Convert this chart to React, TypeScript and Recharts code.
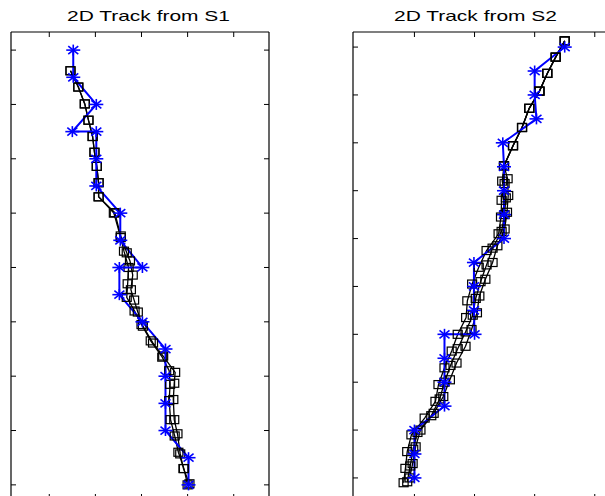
import React from "react";
import { LineChart, Line, XAxis, YAxis } from "recharts";

// tick positions (axes carry no labels)
const s1XTicks = [1, 2, 3, 4, 5];
const s1YTicks = [0, 1, 2, 3, 4, 5, 6, 7, 8];
const s2XTicks = [1, 2, 3, 4];
const s2YTicks = [0, 1, 2, 3, 4, 5, 6, 7, 8, 9];

// S1: sensor detections (blue *)
const s1DetX = [1.52, 1.52, 2.02, 1.5, 2.02, 2.02, 2.02, 2.54, 2.54, 3.02, 2.52, 2.52, 3.02, 3.52, 3.52, 3.52, 3.52, 4.02, 4.02];
const s1DetY = [8, 7.5, 7, 6.5, 6.5, 6, 5.5, 5, 4.5, 4, 4, 3.5, 3, 2.5, 2, 1.5, 1, 0.5, 0];

// S1: estimated tracks (black squares)
const s1TrackAX = [1.46, 1.63, 1.77, 1.85, 1.94, 1.98, 2.03, 2.07, 2.07, 2.42, 2.55, 2.68, 2.75, 2.81, 2.77, 2.84, 2.92, 3.03, 3.25, 3.47, 3.73, 3.71, 3.69, 3.71, 3.78, 3.84, 3.91, 4.04];
const s1TrackAY = [7.62, 7.32, 7.01, 6.71, 6.41, 6.12, 5.86, 5.56, 5.3, 5.01, 4.58, 4.27, 4.12, 3.86, 3.59, 3.4, 3.18, 2.92, 2.61, 2.37, 2.07, 1.87, 1.57, 1.2, 0.94, 0.57, 0.3, 0.02];
const s1TrackBX = [1.46, 1.63, 1.77, 1.85, 1.94, 1.98, 2.03, 2.07, 2.07, 2.4, 2.55, 2.62, 2.72, 2.7, 2.68, 2.85, 3.0, 3.2, 3.45, 3.6, 3.62, 3.6, 3.63, 3.72, 3.8, 3.92, 4.0];
const s1TrackBY = [7.62, 7.32, 7.01, 6.71, 6.41, 6.12, 5.86, 5.56, 5.3, 5.0, 4.55, 4.3, 4.0, 3.7, 3.45, 3.2, 2.95, 2.65, 2.35, 2.1, 1.85, 1.55, 1.2, 0.9, 0.6, 0.3, 0.0];

// S2: sensor detections (blue *)
const s2DetX = [3.5, 3.0, 3.0, 3.03, 2.47, 2.49, 2.49, 2.49, 2.49, 1.99, 1.99, 1.99, 2.0, 1.5, 1.5, 1.5, 1.5, 1.0, 1.0, 1.0];
const s2DetY = [9, 8.5, 8, 7.5, 7, 6.5, 6, 5.5, 5, 4.5, 4, 3.5, 3, 3, 2.5, 2, 1.5, 1, 0.5, 0];

// S2: estimated tracks (black squares)
const s2TrackAX = [3.5, 3.35, 3.21, 3.08, 2.91, 2.79, 2.64, 2.49, 2.46, 2.52, 2.5, 2.45, 2.3, 2.2, 2.1, 2.02, 1.97, 1.85, 1.72, 1.6, 1.5, 1.42, 1.28, 1.05, 0.98, 0.93, 0.88];
const s2TrackAY = [9.13, 8.79, 8.45, 8.08, 7.72, 7.32, 6.94, 6.52, 6.2, 5.85, 5.5, 5.15, 4.8, 4.45, 4.1, 3.75, 3.4, 3.05, 2.7, 2.35, 2.0, 1.65, 1.3, 0.95, 0.6, 0.25, -0.08];
const s2TrackBX = [3.5, 3.35, 3.21, 3.08, 2.91, 2.79, 2.64, 2.49, 2.5, 2.45, 2.44, 2.4, 2.2, 2.07, 1.96, 1.88, 1.86, 1.72, 1.62, 1.5, 1.4, 1.35, 1.17, 0.95, 0.88, 0.85, 0.82];
const s2TrackBY = [9.13, 8.79, 8.45, 8.08, 7.72, 7.32, 6.94, 6.52, 6.15, 5.8, 5.45, 5.1, 4.75, 4.4, 4.05, 3.7, 3.35, 3.0, 2.65, 2.3, 1.95, 1.6, 1.25, 0.9, 0.55, 0.2, -0.1];
const s2TrackCX = [3.5, 3.35, 3.21, 3.08, 2.91, 2.79, 2.64, 2.49, 2.55, 2.56, 2.54, 2.5, 2.38, 2.3, 2.18, 2.08, 2.04, 1.95, 1.85, 1.7, 1.59, 1.48, 1.32, 1.1, 1.02, 0.97, 0.92];
const s2TrackCY = [9.13, 8.79, 8.45, 8.08, 7.72, 7.32, 6.94, 6.52, 6.25, 5.9, 5.55, 5.2, 4.85, 4.5, 4.15, 3.8, 3.45, 3.1, 2.75, 2.4, 2.05, 1.7, 1.35, 1.0, 0.65, 0.3, 0.0];

const zip = (xs: number[], ys: number[]) => xs.map((x, i) => ({ x, y: ys[i] }));

const Square = (props: any) => {
  const { cx, cy } = props;
  if (cx == null || cy == null) return <g />;
  return <rect x={cx - 4.5} y={cy - 4} width={9} height={8} fill="none" stroke="#000" strokeWidth={1.2} />;
};

const Star = (props: any) => {
  const { cx, cy } = props;
  if (cx == null || cy == null) return <g />;
  return (
    <g stroke="#0000ff" strokeWidth={1.6}>
      <line x1={cx - 7} y1={cy} x2={cx + 7} y2={cy} />
      <line x1={cx} y1={cy - 5.5} x2={cx} y2={cy + 5.5} />
      <line x1={cx - 5} y1={cy - 4} x2={cx + 5} y2={cy + 4} />
      <line x1={cx - 5} y1={cy + 4} x2={cx + 5} y2={cy - 4} />
    </g>
  );
};

// no tick labels, only the inward tick marks
const NoLabel = () => <g />;

interface PanelProps {
  left: number;
  xDomain: [number, number];
  yDomain: [number, number];
  xTicks: number[];
  yTicks: number[];
  tracks: { x: number; y: number }[][];
  detections: { x: number; y: number }[];
}

const Panel = ({ left, xDomain, yDomain, xTicks, yTicks, tracks, detections }: PanelProps) => {
  const axisProps = {
    type: "number" as const,
    allowDataOverflow: true,
    mirror: true,
    tick: NoLabel,
    tickSize: 5,
    stroke: "#000",
    tickLine: { stroke: "#000", strokeWidth: 1 },
    axisLine: { stroke: "#000", strokeWidth: 1.2 },
  };
  return (
    <div style={{ position: "absolute", left, top: 0 }}>
      <LineChart width={280} height={520} margin={{ top: 32, right: 11, bottom: 21, left: 11 }}>
        <XAxis xAxisId="b" dataKey="x" orientation="bottom" height={1} domain={xDomain} ticks={xTicks} {...axisProps} />
        <XAxis xAxisId="t" dataKey="x" orientation="top" height={1} domain={xDomain} ticks={xTicks} {...axisProps} />
        <YAxis yAxisId="l" dataKey="y" orientation="left" width={1} domain={yDomain} ticks={yTicks} {...axisProps} />
        <YAxis yAxisId="r" dataKey="y" orientation="right" width={1} domain={yDomain} ticks={yTicks} {...axisProps} />
        {tracks.map((t, i) => (
          <Line
            key={"trk" + i}
            xAxisId="b"
            yAxisId="l"
            data={t}
            dataKey="y"
            stroke="#000"
            strokeWidth={1.3}
            dot={Square}
            activeDot={false}
            isAnimationActive={false}
          />
        ))}
        <Line
          xAxisId="b"
          yAxisId="l"
          data={detections}
          dataKey="y"
          stroke="#0000ff"
          strokeWidth={2}
          dot={Star}
          activeDot={false}
          isAnimationActive={false}
        />
      </LineChart>
    </div>
  );
};

const Title = ({ x, text }: { x: number; text: string }) => (
  <text x={x} y={21} fontFamily="'Liberation Sans', Arial, sans-serif" fontSize={15} textLength={163} lengthAdjust="spacingAndGlyphs" fill="#000">
    {text}
  </text>
);

export default function App() {
  return (
    <div style={{ position: "absolute", left: 0, top: 0, width: 605, height: 496, overflow: "hidden", background: "#fff" }}>
      <Panel
        left={0}
        xDomain={[0.17, 5.765]}
        yDomain={[-0.26, 8.333]}
        xTicks={s1XTicks}
        yTicks={s1YTicks}
        tracks={[zip(s1TrackAX, s1TrackAY), zip(s1TrackBX, s1TrackBY)]}
        detections={zip(s1DetX, s1DetY)}
      />
      <Panel
        left={342}
        xDomain={[-0.022, 4.27]}
        yDomain={[-0.44, 9.315]}
        xTicks={s2XTicks}
        yTicks={s2YTicks}
        tracks={[zip(s2TrackAX, s2TrackAY), zip(s2TrackBX, s2TrackBY), zip(s2TrackCX, s2TrackCY)]}
        detections={zip(s2DetX, s2DetY)}
      />
      <svg width={605} height={30} style={{ position: "absolute", left: 0, top: 0 }}>
        <Title x={67} text="2D Track from S1" />
        <Title x={394} text="2D Track from S2" />
      </svg>
    </div>
  );
}
